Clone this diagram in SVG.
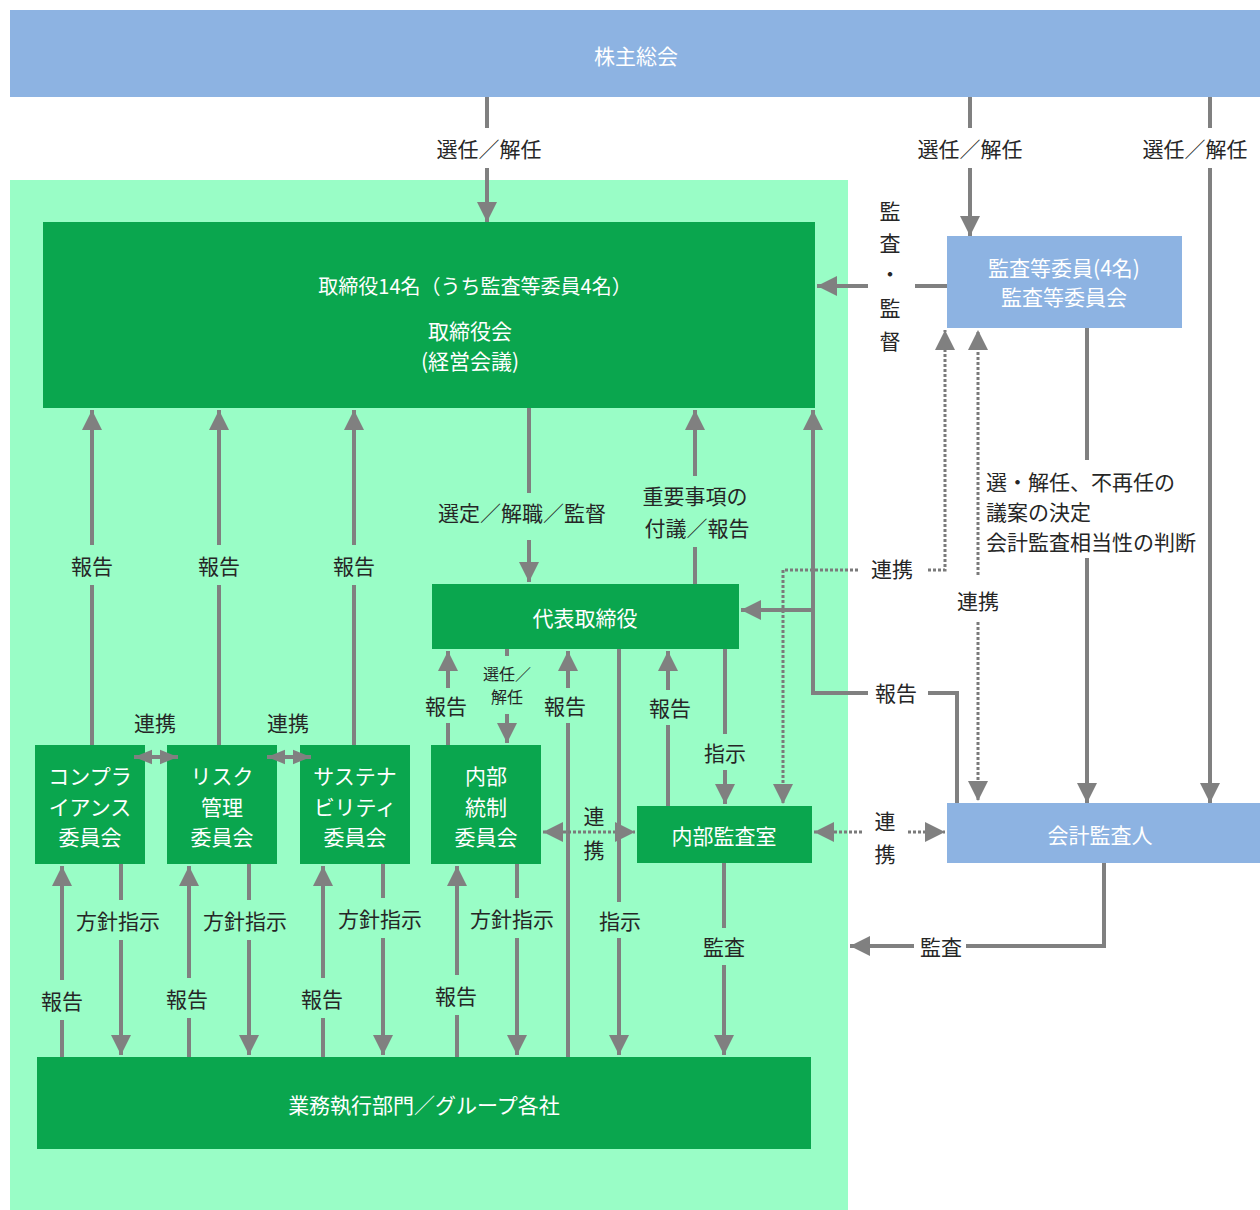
<svg xmlns="http://www.w3.org/2000/svg" width="1260" height="1210" viewBox="0 0 1260 1210">
<style>
text{font-family:"Noto Sans CJK JP","Noto Sans",sans-serif;text-anchor:middle;dominant-baseline:central}
.lbl{font-size:21px;fill:#262626}
.sm{font-size:16px;fill:#262626}
.wt{font-size:21px;fill:#fff}
.blue{fill:#8db3e2}
.dg{fill:#0aa64e}
.ln{fill:none;stroke:#808080;stroke-width:4}
.dot{fill:none;stroke:#7a7a7a;stroke-width:3;stroke-dasharray:3 2}
</style>
<defs>
<marker id="ah" viewBox="0 0 20 20" refX="20" refY="10" markerWidth="20" markerHeight="20" markerUnits="userSpaceOnUse" orient="auto-start-reverse"><path d="M0,0 L20,10 L0,20 z" fill="#808080"/></marker>
<marker id="ahs" viewBox="0 0 20 20" refX="20" refY="10" markerWidth="18" markerHeight="18" markerUnits="userSpaceOnUse" orient="auto-start-reverse"><path d="M0,2 L20,10 L0,18 z" fill="#808080"/></marker>
</defs>
<rect width="1260" height="1210" fill="#fff"/>
<rect x="10" y="180" width="838" height="1030" fill="#99fdc6"/>

<g id="shareholders"><rect class="blue" x="10" y="10" width="1250" height="87"/><text class="wt" x="636" y="55">株主総会</text></g>
<g id="board"><rect class="dg" x="43" y="222" width="772" height="186"/>
<text class="wt" x="475" y="285" style="font-size:20px">取締役14名（うち監査等委員4名）</text>
<text class="wt" x="470" y="330">取締役会</text><text class="wt" x="470" y="360">(経営会議)</text></g>
<g id="audit-committee"><rect class="blue" x="947" y="236" width="235" height="92"/>
<text class="wt" x="1064" y="267">監査等委員(4名)</text><text class="wt" x="1064" y="296">監査等委員会</text></g>
<g id="president"><rect class="dg" x="432" y="584" width="307" height="65"/><text class="wt" x="585" y="617">代表取締役</text></g>
<g id="compliance"><rect class="dg" x="35" y="745" width="110" height="119"/>
<text class="wt" x="90" y="775">コンプラ</text><text class="wt" x="90" y="806">イアンス</text><text class="wt" x="90" y="836">委員会</text></g>
<g id="risk"><rect class="dg" x="167" y="745" width="110" height="119"/>
<text class="wt" x="222" y="775">リスク</text><text class="wt" x="222" y="806">管理</text><text class="wt" x="222" y="836">委員会</text></g>
<g id="sustainability"><rect class="dg" x="300" y="745" width="110" height="119"/>
<text class="wt" x="355" y="775">サステナ</text><text class="wt" x="355" y="806">ビリティ</text><text class="wt" x="355" y="836">委員会</text></g>
<g id="internal-control"><rect class="dg" x="431" y="745" width="110" height="119"/>
<text class="wt" x="486" y="775">内部</text><text class="wt" x="486" y="806">統制</text><text class="wt" x="486" y="836">委員会</text></g>
<g id="internal-audit"><rect class="dg" x="637" y="806" width="175" height="57"/><text class="wt" x="724" y="835">内部監査室</text></g>
<g id="accounting-auditor"><rect class="blue" x="947" y="803" width="313" height="60"/><text class="wt" x="1100" y="834">会計監査人</text></g>
<g id="operations"><rect class="dg" x="37" y="1057" width="774" height="92"/><text class="wt" x="424" y="1104">業務執行部門／グループ各社</text></g>

<g id="connectors">
<path class="ln" d="M487 97V128"/><path class="ln" d="M487 168V222" marker-end="url(#ah)"/><text class="lbl" x="489" y="148">選任／解任</text>
<path class="ln" d="M970 97V128"/><path class="ln" d="M970 168V236" marker-end="url(#ah)"/><text class="lbl" x="970" y="148">選任／解任</text>
<path class="ln" d="M1210 97V128"/><path class="ln" d="M1210 168V803" marker-end="url(#ah)"/><text class="lbl" x="1195" y="148">選任／解任</text>

<path class="ln" d="M947 286H915"/><path class="ln" d="M868 286H817" marker-end="url(#ah)"/>
<text class="lbl" x="890" y="210">監</text><text class="lbl" x="890" y="242">査</text><text class="lbl" x="890" y="273">・</text><text class="lbl" x="890" y="307">監</text><text class="lbl" x="890" y="340">督</text>

<path class="ln" d="M1087 328V460"/><path class="ln" d="M1087 558V803" marker-end="url(#ah)"/>
<text class="lbl" x="986" y="481" style="text-anchor:start">選・解任、不再任の</text>
<text class="lbl" x="986" y="511" style="text-anchor:start">議案の決定</text>
<text class="lbl" x="986" y="541" style="text-anchor:start">会計監査相当性の判断</text>

<path class="dot" d="M928 570H945V330" marker-end="url(#ah)"/>
<path class="dot" d="M858 570H783V804" marker-end="url(#ah)"/>
<text class="lbl" x="892" y="568">連携</text>
<path class="dot" d="M978 575V330" marker-end="url(#ah)"/>
<path class="dot" d="M978 622V801" marker-end="url(#ah)"/>
<text class="lbl" x="978" y="600">連携</text>

<path class="ln" d="M957 803V693H928"/><path class="ln" d="M868 693H813V410" marker-end="url(#ah)"/>
<path class="ln" d="M813 610H741" marker-end="url(#ah)"/>
<text class="lbl" x="896" y="692">報告</text>

<path class="ln" d="M529 408V493"/><path class="ln" d="M529 540V582" marker-end="url(#ah)"/>
<text class="lbl" x="522" y="512">選定／解職／監督</text>
<path class="ln" d="M695 584V547"/><path class="ln" d="M695 476V410" marker-end="url(#ah)"/>
<text class="lbl" x="695" y="495">重要事項の</text><text class="lbl" x="697" y="527">付議／報告</text>

<path class="ln" d="M92 745V585"/><path class="ln" d="M92 545V410" marker-end="url(#ah)"/><text class="lbl" x="92" y="565">報告</text>
<path class="ln" d="M219 745V585"/><path class="ln" d="M219 545V410" marker-end="url(#ah)"/><text class="lbl" x="219" y="565">報告</text>
<path class="ln" d="M354 745V585"/><path class="ln" d="M354 545V410" marker-end="url(#ah)"/><text class="lbl" x="354" y="565">報告</text>

<path class="ln" d="M134 757H178" marker-start="url(#ahs)" marker-end="url(#ahs)"/><text class="lbl" x="155" y="722">連携</text>
<path class="ln" d="M267 757H311" marker-start="url(#ahs)" marker-end="url(#ahs)"/><text class="lbl" x="288" y="722">連携</text>

<path class="ln" d="M448 745V723"/><path class="ln" d="M448 688V651" marker-end="url(#ah)"/><text class="lbl" x="446" y="705">報告</text>
<path class="ln" d="M507 649V656"/><path class="ln" d="M507 714V743" marker-end="url(#ah)"/>
<text class="sm" x="507" y="673">選任／</text><text class="sm" x="507" y="696">解任</text>
<path class="ln" d="M568 1057V723"/><path class="ln" d="M568 688V651" marker-end="url(#ah)"/><text class="lbl" x="565" y="705">報告</text>
<path class="ln" d="M619 649V902"/><path class="ln" d="M619 938V1055" marker-end="url(#ah)"/><text class="lbl" x="620" y="920">指示</text>
<path class="ln" d="M668 806V725"/><path class="ln" d="M668 690V651" marker-end="url(#ah)"/><text class="lbl" x="670" y="707">報告</text>
<path class="ln" d="M725 649V734"/><path class="ln" d="M725 770V804" marker-end="url(#ah)"/><text class="lbl" x="725" y="752">指示</text>

<path class="dot" d="M543 832H635" marker-start="url(#ah)" marker-end="url(#ah)"/>
<text class="lbl" x="594" y="815">連</text><text class="lbl" x="594" y="849">携</text>
<path class="dot" d="M814 832H862" marker-start="url(#ah)"/><path class="dot" d="M908 832H945" marker-end="url(#ah)"/>
<text class="lbl" x="885" y="820">連</text><text class="lbl" x="885" y="853">携</text>

<path class="ln" d="M1104 863V946H966"/><path class="ln" d="M914 946H850" marker-end="url(#ah)"/><text class="lbl" x="941" y="946">監査</text>

<path class="ln" d="M62 1057V1020"/><path class="ln" d="M62 980V866" marker-end="url(#ah)"/><text class="lbl" x="62" y="1000">報告</text>
<path class="ln" d="M121 864V900"/><path class="ln" d="M121 940V1055" marker-end="url(#ah)"/><text class="lbl" x="118" y="920">方針指示</text>
<path class="ln" d="M189 1057V1018"/><path class="ln" d="M189 978V866" marker-end="url(#ah)"/><text class="lbl" x="187" y="998">報告</text>
<path class="ln" d="M249 864V900"/><path class="ln" d="M249 940V1055" marker-end="url(#ah)"/><text class="lbl" x="245" y="920">方針指示</text>
<path class="ln" d="M323 1057V1018"/><path class="ln" d="M323 978V866" marker-end="url(#ah)"/><text class="lbl" x="322" y="998">報告</text>
<path class="ln" d="M383 864V898"/><path class="ln" d="M383 938V1055" marker-end="url(#ah)"/><text class="lbl" x="380" y="918">方針指示</text>
<path class="ln" d="M457 1057V1015"/><path class="ln" d="M457 975V866" marker-end="url(#ah)"/><text class="lbl" x="456" y="995">報告</text>
<path class="ln" d="M517 864V898"/><path class="ln" d="M517 938V1055" marker-end="url(#ah)"/><text class="lbl" x="512" y="918">方針指示</text>
<path class="ln" d="M724 863V928"/><path class="ln" d="M724 965V1055" marker-end="url(#ah)"/><text class="lbl" x="724" y="946">監査</text>
</g>
</svg>
